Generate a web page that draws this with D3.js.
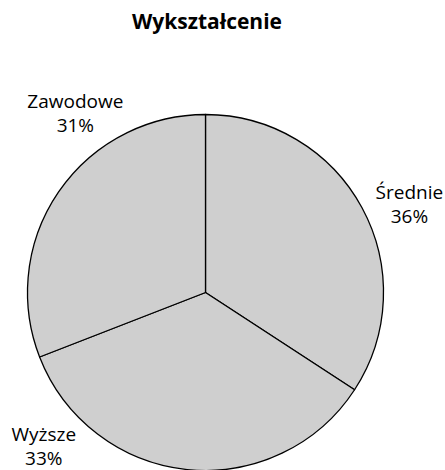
<!DOCTYPE html>
<html lang="pl">
	<head>
		<meta charset="utf-8">
		<title>Wykształcenie</title>
		<script type="text/javascript" src="https://d3js.org/d3.v7.min.js"></script>
		<style type="text/css">
			body { margin: 0; background: #fff; }
			text { font-family: "Open Sans", sans-serif; fill: #000; }
		</style>
	</head>
	<body>
		<div id="Area"></div>
		<script>
			// Data (slice sizes from the wedge angles, labels as printed)
			const categories = ["Średnie", "Wyższe", "Zawodowe"];
			const shares = [34.2, 34.9, 30.9];
			const percentLabels = ["36%", "33%", "31%"];

			// Layout
			const width = 445;
			const height = 470;
			const cx = 205.5, cy = 292.5, radius = 178;
			const labelRadius = 1.25 * radius;
			const labelAngles = [66.4, 226.6, 324.2]; // degrees, clockwise from top

			const svg = d3.select("#Area")
				.append("svg")
				.attr("width", width)
				.attr("height", height);

			svg.append("text")
				.attr("x", 207)
				.attr("y", 29)
				.attr("text-anchor", "middle")
				.attr("font-weight", "bold")
				.attr("font-size", "21px")
				.text("Wykształcenie");

			const pie = d3.pie().sort(null).value(d => d);
			const arc = d3.arc().innerRadius(0).outerRadius(radius);

			const g = svg.append("g").attr("transform", `translate(${cx},${cy})`);

			g.selectAll("path")
				.data(pie(shares))
				.enter()
				.append("path")
				.attr("d", arc)
				.attr("fill", "#cfcfcf")
				.attr("stroke", "#000")
				.attr("stroke-width", 1.3)
				.attr("stroke-linejoin", "round");

			const labels = g.selectAll("g.label")
				.data(categories)
				.enter()
				.append("g")
				.attr("class", "label")
				.attr("transform", (d, i) => {
					const a = labelAngles[i] * Math.PI / 180;
					return `translate(${labelRadius * Math.sin(a)},${-labelRadius * Math.cos(a)})`;
				});

			labels.append("text")
				.attr("text-anchor", "middle")
				.attr("font-size", "19px")
				.attr("y", -4)
				.text(d => d);

			labels.append("text")
				.attr("text-anchor", "middle")
				.attr("font-size", "19px")
				.attr("y", 20)
				.text((d, i) => percentLabels[i]);
		</script>
	</body>
</html>
